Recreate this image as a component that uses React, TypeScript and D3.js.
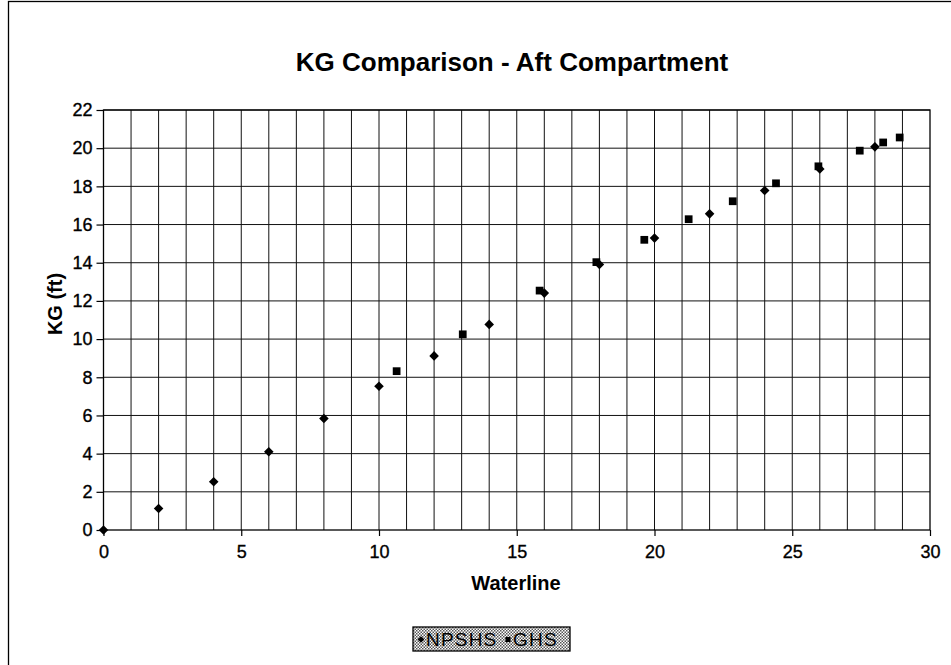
import React, { useEffect, useRef } from "react";
import * as d3 from "d3";

// data
const npshsX = [0, 2, 4, 6, 8, 10, 12, 14, 16, 18, 20, 22, 24, 26, 28];
const npshsY = [0, 1.13, 2.53, 4.1, 5.84, 7.53, 9.12, 10.77, 12.41, 13.91, 15.29, 16.56, 17.78, 18.91, 20.07];
const ghsX = [10.64, 13.04, 15.83, 17.89, 19.63, 21.24, 22.84, 24.41, 25.95, 27.45, 28.3, 28.9];
const ghsY = [8.32, 10.25, 12.54, 14.03, 15.2, 16.28, 17.22, 18.16, 19.05, 19.87, 20.3, 20.56];
const xTicks = [0, 5, 10, 15, 20, 25, 30];
const yTicks = [0, 2, 4, 6, 8, 10, 12, 14, 16, 18, 20, 22];
const legendLabels = ["NPSHS", "GHS"];

const W = 951;
const H = 665;
const FONT = "'Liberation Sans', Arial, sans-serif";

export const App = () => {
  const ref = useRef<SVGSVGElement>(null);

  useEffect(() => {
    if (!ref.current) return;
    const svg = d3.select(ref.current);
    svg.selectAll("*").remove();

    const plot = { left: 103.5, right: 930, top: 110, bottom: 530 };
    const x = d3.scaleLinear().domain([0, 30]).range([plot.left, plot.right]);
    const y = d3.scaleLinear().domain([0, 22]).range([plot.bottom, plot.top]);

    // halftone pattern for the legend box
    const defs = svg.append("defs");
    const pat = defs
      .append("pattern")
      .attr("id", "dots")
      .attr("width", 3)
      .attr("height", 3)
      .attr("patternUnits", "userSpaceOnUse");
    pat.append("rect").attr("width", 3).attr("height", 3).attr("fill", "#fff");
    pat.append("rect").attr("width", 1.5).attr("height", 1.5).attr("fill", "#555");
    pat.append("rect").attr("x", 1.5).attr("y", 1.5).attr("width", 1.5).attr("height", 1.5).attr("fill", "#555");

    // outer frame (only left and top edges show)
    svg
      .append("rect")
      .attr("x", 8.5)
      .attr("y", 1.5)
      .attr("width", W + 20)
      .attr("height", H + 20)
      .attr("fill", "#fff")
      .attr("stroke", "#000")
      .attr("stroke-width", 1.3);

    // title
    svg
      .append("text")
      .attr("x", 512)
      .attr("y", 71)
      .attr("text-anchor", "middle")
      .style("font-family", FONT)
      .style("font-weight", "bold")
      .style("font-size", "26px")
      .text("KG Comparison - Aft Compartment");

    const g = svg.append("g");

    // vertical gridlines every 1
    g.selectAll(".vg")
      .data(d3.range(1, 30))
      .join("line")
      .attr("x1", (d) => x(d))
      .attr("x2", (d) => x(d))
      .attr("y1", plot.top)
      .attr("y2", plot.bottom)
      .attr("stroke", "#111")
      .attr("stroke-width", 1);

    // horizontal gridlines
    g.selectAll(".hg")
      .data(yTicks.slice(1))
      .join("line")
      .attr("x1", plot.left)
      .attr("x2", plot.right)
      .attr("y1", (d) => y(d))
      .attr("y2", (d) => y(d))
      .attr("stroke", "#111")
      .attr("stroke-width", 1);

    // plot border
    g.append("rect")
      .attr("x", plot.left)
      .attr("y", plot.top)
      .attr("width", plot.right - plot.left)
      .attr("height", plot.bottom - plot.top)
      .attr("fill", "none")
      .attr("stroke", "#000")
      .attr("stroke-width", 1.3);

    // y axis
    const yAxis = d3
      .axisLeft(y)
      .tickValues(yTicks)
      .tickSize(7)
      .tickPadding(4)
      .tickFormat(d3.format("d"));
    const ya = svg.append("g").attr("transform", `translate(${plot.left},0)`).call(yAxis);
    ya.select(".domain").remove();
    ya.selectAll("line").attr("stroke", "#000").attr("stroke-width", 1.2);
    ya.selectAll("text")
      .style("font-family", FONT)
      .style("font-size", "18px")
      .attr("fill", "#000")
      .attr("stroke", "#000")
      .attr("stroke-width", 0.35);

    // x axis
    const xAxis = d3
      .axisBottom(x)
      .tickValues(xTicks)
      .tickSize(6)
      .tickPadding(9)
      .tickFormat(d3.format("d"));
    const xa = svg.append("g").attr("transform", `translate(0,${plot.bottom})`).call(xAxis);
    xa.select(".domain").remove();
    xa.selectAll("line").attr("stroke", "#000").attr("stroke-width", 1.2);
    xa.selectAll("text")
      .style("font-family", FONT)
      .style("font-size", "18px")
      .attr("fill", "#000")
      .attr("stroke", "#000")
      .attr("stroke-width", 0.35);

    // axis titles
    svg
      .append("text")
      .attr("x", 516)
      .attr("y", 590)
      .attr("text-anchor", "middle")
      .style("font-family", FONT)
      .style("font-weight", "bold")
      .style("font-size", "20px")
      .text("Waterline");

    svg
      .append("text")
      .attr("transform", `translate(62,304) rotate(-90)`)
      .attr("text-anchor", "middle")
      .style("font-family", FONT)
      .style("font-weight", "bold")
      .style("font-size", "20px")
      .text("KG (ft)");

    // markers: diamond is a square turned 45 degrees
    const diamond = d3.symbol().type(d3.symbolSquare).size(46);
    const square = d3.symbol().type(d3.symbolSquare).size(60);

    svg
      .append("g")
      .selectAll("path")
      .data(npshsX.map((v, i) => [v, npshsY[i]]))
      .join("path")
      .attr("d", diamond)
      .attr("transform", (d) => `translate(${x(d[0])},${y(d[1])}) rotate(45)`)
      .attr("fill", "#000");

    svg
      .append("g")
      .selectAll("path")
      .data(ghsX.map((v, i) => [v, ghsY[i]]))
      .join("path")
      .attr("d", square)
      .attr("transform", (d) => `translate(${x(d[0])},${y(d[1])})`)
      .attr("fill", "#000");

    // legend
    const lg = svg.append("g").attr("transform", "translate(413,627)");
    lg.append("rect")
      .attr("width", 157)
      .attr("height", 24)
      .attr("fill", "url(#dots)")
      .attr("stroke", "#000")
      .attr("stroke-width", 1.3);
    const legendItems = [
      { label: legendLabels[0], sym: d3.symbol().type(d3.symbolSquare).size(22), rot: 45, x: 8 },
      { label: legendLabels[1], sym: d3.symbol().type(d3.symbolSquare).size(26), rot: 0, x: 95 },
    ];
    legendItems.forEach((it) => {
      lg.append("path")
        .attr("d", it.sym)
        .attr("transform", `translate(${it.x},12.5) rotate(${it.rot})`)
        .attr("fill", "#000");
      lg.append("text")
        .attr("x", it.x + 5)
        .attr("y", 19)
        .style("font-family", FONT)
        .style("font-size", "19px")
        .style("letter-spacing", "1.2px")
        .attr("fill", "#000")
        .text(it.label);
    });
  }, []);

  return <svg ref={ref} width={W} height={H} style={{ display: "block", position: "absolute", left: 0, top: 0 }} />;
};

export default App;
